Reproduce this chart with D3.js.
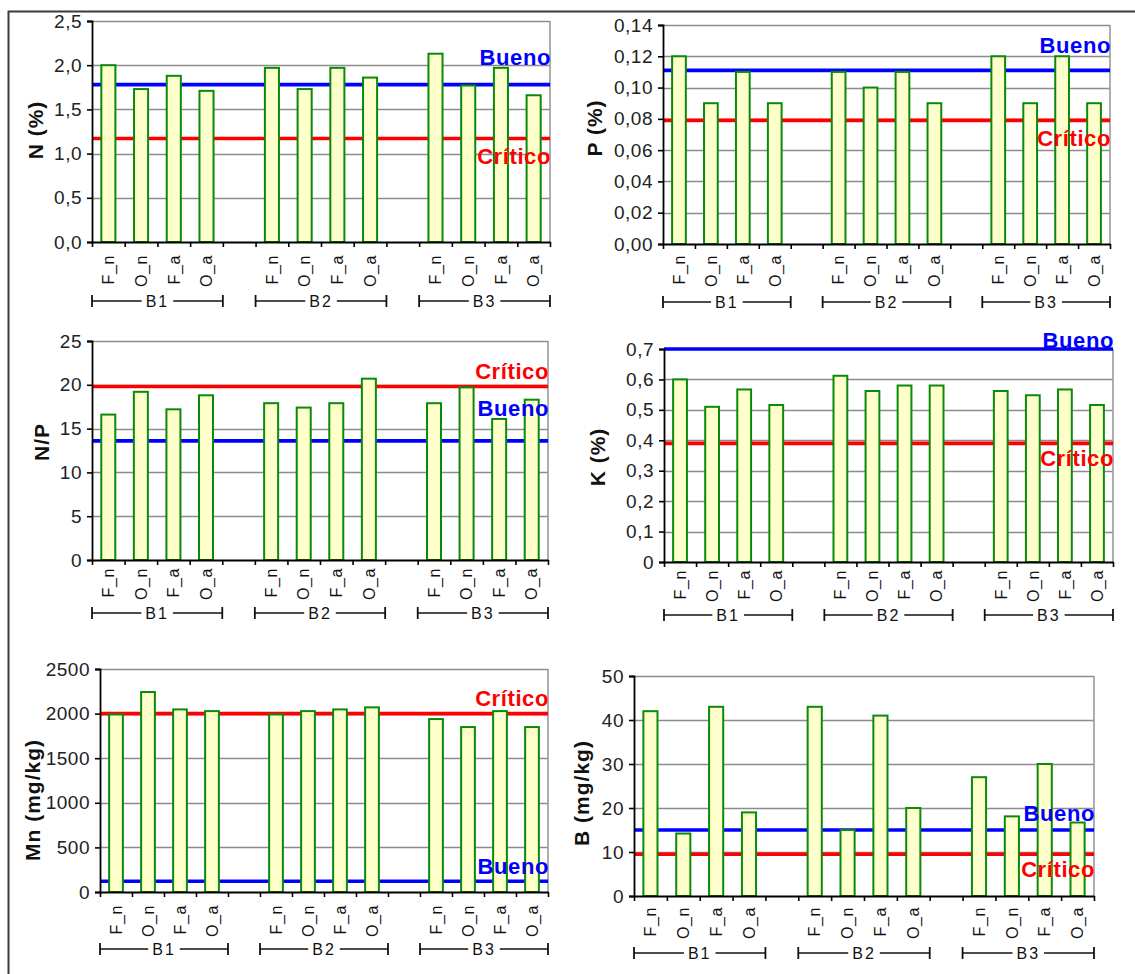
<!DOCTYPE html>
<html>
<head>
<meta charset="utf-8">
<script src="https://cdn.jsdelivr.net/npm/d3@7"></script>
<style>
  html, body { margin: 0; padding: 0; background: #fff; }
  svg { display: block; }
  text { font-family: "Liberation Sans", Arial, sans-serif; }
</style>
</head>
<body>
<svg id="chart" width="1135" height="974"></svg>
<script>
// ---------------- DATA ----------------
const groups = ["B1", "B2", "B3"];
const treatments = ["F_n", "O_n", "F_a", "O_a"];

const nValues  = [2.00, 1.73, 1.88, 1.71,  1.97, 1.73, 1.97, 1.86,  2.13, 1.77, 1.97, 1.66];
const pValues  = [0.12, 0.09, 0.11, 0.09,  0.11, 0.10, 0.11, 0.09,  0.12, 0.09, 0.12, 0.09];
const npValues = [16.6, 19.2, 17.2, 18.8,  17.9, 17.4, 17.9, 20.7,  17.9, 19.7, 16.1, 18.3];
const kValues  = [0.600, 0.510, 0.567, 0.516,  0.612, 0.562, 0.580, 0.580,  0.562, 0.548, 0.567, 0.516];
const mnValues = [1990, 2242, 2047, 2028,  1990, 2028, 2047, 2070,  1939, 1849, 2028, 1849];
const bValues  = [42, 14.2, 43, 19,  43, 15, 41, 20,  27, 18.1, 30, 16.7];

// reference levels [Bueno, Crítico]
const nRefs  = [1.78, 1.17];
const pRefs  = [0.111, 0.079];
const npRefs = [13.6, 19.8];
const kRefs  = [0.70, 0.39];
const mnRefs = [120, 2000];
const bRefs  = [15, 9.5];

const refNames = ["Bueno", "Crítico"];

// tick values and labels
const nTicks  = [0, 0.5, 1.0, 1.5, 2.0, 2.5];
const nTickLabels  = ["0,0", "0,5", "1,0", "1,5", "2,0", "2,5"];
const pTicks  = [0, 0.02, 0.04, 0.06, 0.08, 0.10, 0.12, 0.14];
const pTickLabels  = ["0,00", "0,02", "0,04", "0,06", "0,08", "0,10", "0,12", "0,14"];
const npTicks = [0, 5, 10, 15, 20, 25];
const npTickLabels = ["0", "5", "10", "15", "20", "25"];
const kTicks  = [0, 0.1, 0.2, 0.3, 0.4, 0.5, 0.6, 0.7];
const kTickLabels  = ["0", "0,1", "0,2", "0,3", "0,4", "0,5", "0,6", "0,7"];
const mnTicks = [0, 500, 1000, 1500, 2000, 2500];
const mnTickLabels = ["0", "500", "1000", "1500", "2000", "2500"];
const bTicks  = [0, 10, 20, 30, 40, 50];
const bTickLabels  = ["0", "10", "20", "30", "40", "50"];

const titles = ["N (%)", "P (%)", "N/P", "K (%)", "Mn (mg/kg)", "B (mg/kg)"];

// ---------------- LAYOUT ----------------
const panels = [
  { values: nValues,  refs: nRefs,  ticks: nTicks,  tickLabels: nTickLabels,  max: 2.5,
    left: 92,  right: 550,  top: 21,  bottom: 242, titleX: 35,  titleY: 130, labelOff: 13, groupY: 301,
    refLabelY: [57, 156] },
  { values: pValues,  refs: pRefs,  ticks: pTicks,  tickLabels: pTickLabels,  max: 0.14,
    left: 663, right: 1110, top: 25,  bottom: 244, titleX: 594, titleY: 128, labelOff: 11, groupY: 302,
    refLabelY: [45, 138] },
  { values: npValues, refs: npRefs, ticks: npTicks, tickLabels: npTickLabels, max: 25,
    left: 92,  right: 548,  top: 341, bottom: 560, titleX: 41,  titleY: 442, labelOff: 8,  groupY: 613,
    refLabelY: [408, 371] },
  { values: kValues,  refs: kRefs,  ticks: kTicks,  tickLabels: kTickLabels,  max: 0.7,
    left: 664, right: 1113, top: 349, bottom: 562, titleX: 597, titleY: 457, labelOff: 8,  groupY: 615,
    refLabelY: [340, 458] },
  { values: mnValues, refs: mnRefs, ticks: mnTicks, tickLabels: mnTickLabels, max: 2500,
    left: 100, right: 548,  top: 669, bottom: 892, titleX: 32,  titleY: 800, labelOff: 13, groupY: 949,
    refLabelY: [866, 698] },
  { values: bValues,  refs: bRefs,  ticks: bTicks,  tickLabels: bTickLabels,  max: 50,
    left: 634, right: 1094, top: 676, bottom: 896, titleX: 581, titleY: 793, labelOff: 11, groupY: 953,
    refLabelY: [813, 869] }
];

const refColors = ["#0000ff", "#ff0000"];

const svg = d3.select("#chart");

// outer frame (left and top edges visible)
svg.append("rect")
  .attr("x", 8.5).attr("y", 11.5)
  .attr("width", 1300).attr("height", 1100)
  .attr("fill", "none").attr("stroke", "#3a3a3a").attr("stroke-width", 2);

// slot domain: 4 treatments + a gap after each group except the last
const slots = [];
groups.forEach((g, gi) => {
  treatments.forEach(t => slots.push({ key: g + "|" + t, group: g, label: t }));
  if (gi < groups.length - 1) slots.push({ key: g + "|gap", group: g, label: "" });
});

panels.forEach((p, pi) => {
  const g = svg.append("g");
  const x = d3.scaleBand()
    .domain(slots.map(s => s.key))
    .range([p.left, p.right])
    .paddingInner(0.57)
    .paddingOuter(0.285);
  const slotScale = d3.scaleLinear().domain([0, slots.length]).range([p.left, p.right]);
  const y = d3.scaleLinear().domain([0, p.max]).range([p.bottom, p.top]);

  // gridlines
  g.append("g")
    .selectAll("line")
    .data(p.ticks.slice(1))
    .join("line")
    .attr("x1", p.left).attr("x2", p.right)
    .attr("y1", d => Math.round(y(d)) + 0.5).attr("y2", d => Math.round(y(d)) + 0.5)
    .attr("stroke", "#8c8c8c").attr("stroke-width", 1.6);

  // right border
  g.append("line")
    .attr("x1", p.right).attr("x2", p.right)
    .attr("y1", p.top).attr("y2", p.bottom)
    .attr("stroke", "#9a9a9a").attr("stroke-width", 1.6);

  // reference lines
  p.refs.forEach((r, ri) => {
    g.append("line")
      .attr("x1", p.left).attr("x2", p.right)
      .attr("y1", y(r)).attr("y2", y(r))
      .attr("stroke", refColors[ri]).attr("stroke-width", 3.6);
  });

  // bars
  const data = p.values.map((v, i) => ({
    key: groups[Math.floor(i / 4)] + "|" + treatments[i % 4], value: v
  }));
  g.append("g")
    .selectAll("rect")
    .data(data)
    .join("rect")
    .attr("x", d => x(d.key))
    .attr("width", x.bandwidth())
    .attr("y", d => y(d.value))
    .attr("height", d => y(0) - y(d.value))
    .attr("fill", "#ffffcc")
    .attr("stroke", "#0a8a0a")
    .attr("stroke-width", 2);

  // y axis
  const yAxis = g.append("g")
    .attr("transform", `translate(${p.left},0)`)
    .call(d3.axisLeft(y).tickValues(p.ticks).tickFormat((d, i) => p.tickLabels[i]).tickSize(5).tickPadding(5));
  yAxis.select(".domain").attr("stroke", "#000").attr("stroke-width", 1.8);
  yAxis.selectAll(".tick line").attr("stroke", "#000").attr("stroke-width", 1.6);
  yAxis.selectAll(".tick text")
    .attr("font-size", 19).attr("fill", "#222")
    .style("letter-spacing", "0.5px")
    .attr("font-family", "Liberation Sans, Arial, sans-serif");

  // x axis (slot boundaries)
  const xAxis = g.append("g")
    .attr("transform", `translate(0,${p.bottom})`)
    .call(d3.axisBottom(slotScale).tickValues(d3.range(slots.length + 1)).tickFormat("").tickSize(5).tickSizeOuter(0));
  xAxis.select(".domain").attr("stroke", "#000").attr("stroke-width", 1.8);
  xAxis.selectAll(".tick line").attr("stroke", "#000").attr("stroke-width", 1.6);

  // category labels (rotated)
  g.append("g")
    .selectAll("text")
    .data(slots.filter(s => s.label))
    .join("text")
    .attr("transform", s => `translate(${x(s.key) + x.bandwidth() / 2},${p.bottom + p.labelOff}) rotate(-90)`)
    .attr("text-anchor", "end")
    .attr("dy", "0.36em")
    .attr("font-size", 16)
    .style("letter-spacing", "0.6px")
    .attr("fill", "#111")
    .text(s => s.label);

  // group brackets
  groups.forEach((gr, gi) => {
    const first = gi * 5;
    const x0 = slotScale(first), x1 = slotScale(first + 4);
    const cx = (x0 + x1) / 2;
    const gy = p.groupY;
    const t = g.append("text")
      .attr("x", cx).attr("y", gy)
      .attr("dy", "0.36em")
      .attr("text-anchor", "middle")
      .attr("font-size", 16)
      .style("letter-spacing", "2px")
      .attr("fill", "#111")
      .text(gr);
    const w = t.node().getComputedTextLength();
    const gap = 4;
    const segs = [[x0, cx - w / 2 - gap], [cx + w / 2 + gap, x1]];
    segs.forEach(sg => {
      g.append("line").attr("x1", sg[0]).attr("x2", sg[1]).attr("y1", gy).attr("y2", gy)
        .attr("stroke", "#111").attr("stroke-width", 1.6);
    });
    [x0, x1].forEach(xx => {
      g.append("line").attr("x1", xx).attr("x2", xx).attr("y1", gy - 6).attr("y2", gy + 6)
        .attr("stroke", "#111").attr("stroke-width", 1.8);
    });
  });

  // y title
  g.append("text")
    .attr("transform", `translate(${p.titleX},${p.titleY}) rotate(-90)`)
    .attr("text-anchor", "middle")
    .attr("dy", "0.36em")
    .attr("font-size", 21)
    .attr("font-weight", "bold")
    .style("letter-spacing", "1px")
    .attr("fill", "#111")
    .text(titles[pi]);

  // reference labels
  refNames.forEach((nm, ri) => {
    g.append("text")
      .attr("x", p.right + 1)
      .attr("y", p.refLabelY[ri])
      .attr("dy", "0.36em")
      .attr("text-anchor", "end")
      .attr("font-size", 22)
      .attr("font-weight", "bold")
      .style("letter-spacing", "0.6px")
      .attr("fill", refColors[ri])
      .text(nm);
  });
});
</script>
</body>
</html>
